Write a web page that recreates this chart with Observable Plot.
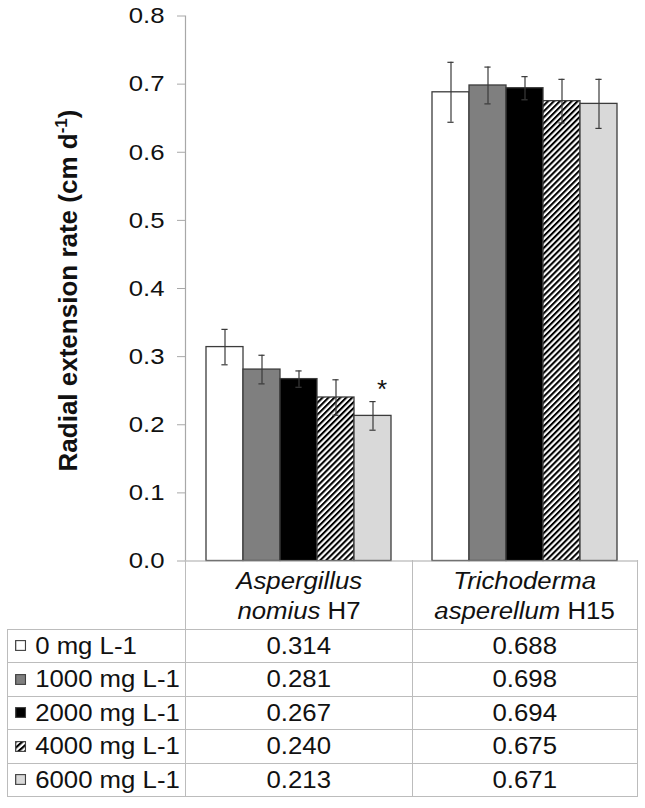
<!DOCTYPE html>
<html>
<head>
<meta charset="utf-8">
<script src="https://cdn.jsdelivr.net/npm/d3@7"></script>
<script src="https://cdn.jsdelivr.net/npm/@observablehq/plot@0.6"></script>
<style>
  body { margin: 0; background: #fff; font-family: "Liberation Sans", Arial, sans-serif; }
  #wrap { position: relative; width: 645px; height: 808px; overflow: hidden; background: #fff; }
  #chart { position: absolute; left: 0; top: 0; }
  #tbl { position: absolute; left: 7px; top: 560px; border-collapse: collapse; table-layout: fixed;
         font-size: 23px; color: #111; }
  #tbl td { border: 1px solid #bcbcbc; padding: 0; text-align: center; white-space: nowrap; overflow: visible; }
  #tbl tr.head td { height: 69px; line-height: 30px; padding-top: 4px; box-sizing: border-box; border-top: none; }
  #tbl tr.head td.corner { border: none; border-right: 1px solid #bcbcbc; border-bottom: 1px solid #bcbcbc; }
  #tbl tr.row td { height: 33.5px; box-sizing: border-box; line-height: 30px; }
  #tbl td.lab { text-align: left; padding-left: 7px; }
  .st { display: inline-block; transform: scaleX(1.12); transform-origin: 50% 50%; }
  .stl { display: inline-block; transform: scaleX(1.12); transform-origin: 0 50%; }
  .sw { display: inline-block; vertical-align: middle; margin-right: 8px; position: relative; top: -2px; }
</style>
</head>
<body>
<div id="wrap">
  <div id="chart"></div>
  <table id="tbl"></table>
</div>
<script>
// ---------- data ----------
const categories = ["Aspergillus nomius H7", "Trichoderma asperellum H15"];
const genus = ["Aspergillus", "Trichoderma"];
const species = ["nomius", "asperellum"];
const strain = ["H7", "H15"];
const series = ["0 mg L-1", "1000 mg L-1", "2000 mg L-1", "4000 mg L-1", "6000 mg L-1"];
const valuesAspergillus = [0.314, 0.281, 0.267, 0.240, 0.213];
const valuesTrichoderma = [0.688, 0.698, 0.694, 0.675, 0.671];
const errorsAspergillus = [0.026, 0.021, 0.012, 0.026, 0.021];
const errorsTrichoderma = [0.044, 0.027, 0.017, 0.032, 0.036];
const yTicks = [0, 0.1, 0.2, 0.3, 0.4, 0.5, 0.6, 0.7, 0.8];
const fills = ["#ffffff", "#7f7f7f", "#000000", "url(#hatch)", "#d9d9d9"];
const significance = [{category: categories[0], series: series[4], label: "*"}];
const yTitle = "Radial extension rate (cm d";
const yTitleSup = "-1";

// ---------- table for the library ----------
const valueSets = [valuesAspergillus, valuesTrichoderma];
const errorSets = [errorsAspergillus, errorsTrichoderma];
const rows = [];
categories.forEach((c, i) => series.forEach((s, j) => {
  rows.push({category: c, series: s, value: valueSets[i][j], err: errorSets[i][j]});
}));
const sig = significance.map(a => {
  const r = rows.find(d => d.category === a.category && d.series === a.series);
  return {...a, top: r.value + r.err};
});

const stroke = "#3c3c3c";
const errStroke = "#3a3a3a";
const chart = Plot.plot({
  width: 645,
  height: 562,
  marginLeft: 185,
  marginRight: 8,
  marginTop: 15.5,
  marginBottom: 1.5,
  style: {fontFamily: "Liberation Sans, Arial, sans-serif", background: "transparent", overflow: "visible"},
  fx: {domain: categories, paddingInner: 0, paddingOuter: 0, axis: null, label: null},
  x: {domain: series, paddingInner: 0, paddingOuter: 0.487, axis: null, label: null},
  y: {domain: [0, 0.8], axis: null},
  color: {domain: series, range: fills},
  marks: [
    Plot.barY(rows, {fx: "category", x: "series", y: "value", fill: "series", stroke: stroke, strokeWidth: 1.3}),
    Plot.ruleX(rows, {fx: "category", x: "series", y1: d => d.value - d.err, y2: d => d.value + d.err,
      stroke: errStroke, strokeWidth: 1.2}),
    Plot.tickY(rows, {fx: "category", x: "series", y: d => d.value + d.err, insetLeft: 15.4, insetRight: 15.4,
      stroke: errStroke, strokeWidth: 1.2}),
    Plot.tickY(rows, {fx: "category", x: "series", y: d => d.value - d.err, insetLeft: 15.4, insetRight: 15.4,
      stroke: errStroke, strokeWidth: 1.2}),
    Plot.text(sig, {fx: "category", x: "series", y: "top", text: "label", dx: 9, dy: -12, fontSize: 26, fill: "#111"}),
    Plot.frame({anchor: "bottom", stroke: "#a8a8a8", strokeWidth: 1.2, facet: "super"}),
    Plot.frame({anchor: "left", stroke: "#a8a8a8", strokeWidth: 1.2, facet: "super"}),
    Plot.axisY({ticks: yTicks, tickFormat: d3.format(".1f"), tickSize: 8, tickPadding: 13, fontSize: 23,
      stroke: "#a8a8a8", fill: "#111", label: null})
  ]
});

// hatch pattern
const svgSel = d3.select(chart);
const defs = svgSel.insert("defs", ":first-child");
const pat = defs.append("pattern").attr("id", "hatch").attr("patternUnits", "userSpaceOnUse")
  .attr("width", 4.2).attr("height", 4.2).attr("patternTransform", "rotate(45)");
pat.append("rect").attr("width", 4.2).attr("height", 4.2).attr("fill", "#fff");
pat.append("line").attr("x1", 1).attr("y1", 0).attr("x2", 1).attr("y2", 4.2)
  .attr("stroke", "#000").attr("stroke-width", 2.1);

// stretch tick labels horizontally like the reference
svgSel.selectAll('g[aria-label="y-axis tick label"] text').each(function() {
  const t = this.getAttribute("transform") || "";
  this.setAttribute("transform", t + " scale(1.12,1)");
});

// y-axis title
const title = svgSel.append("text")
  .attr("transform", "translate(77,290.5) rotate(-90)")
  .attr("text-anchor", "middle")
  .attr("font-size", 26)
  .attr("font-weight", "bold")
  .attr("fill", "#111");
title.append("tspan").text(yTitle);
title.append("tspan").attr("font-size", 17).attr("dy", -10).text(yTitleSup);
title.append("tspan").attr("dy", 10).text(")");

document.getElementById("chart").appendChild(chart);

// ---------- data table ----------
const tbl = d3.select("#tbl");
const cg = tbl.append("colgroup");
[178, 227, 225].forEach(w => cg.append("col").style("width", w + "px"));
const head = tbl.append("tr").attr("class", "head");
head.append("td").attr("class", "corner");
categories.forEach((c, i) => {
  head.append("td").html(`<span class="st"><i>${genus[i]}</i></span><br><span class="st"><i>${species[i]}</i> ${strain[i]}</span>`);
});
series.forEach((s, j) => {
  const tr = tbl.append("tr").attr("class", "row");
  const lab = tr.append("td").attr("class", "lab").append("span").attr("class", "stl");
  const sw = lab.append("svg").attr("class", "sw").attr("width", 10).attr("height", 11);
  sw.append("rect").attr("x", 0.6).attr("y", 0.6).attr("width", 8.8).attr("height", 9.8)
    .attr("fill", fills[j]).attr("stroke", "#404040").attr("stroke-width", 1.1);
  lab.append("span").text(s);
  valueSets.forEach(vs => tr.append("td").append("span").attr("class", "st").text(vs[j].toFixed(3)));
});
</script>
</body>
</html>
